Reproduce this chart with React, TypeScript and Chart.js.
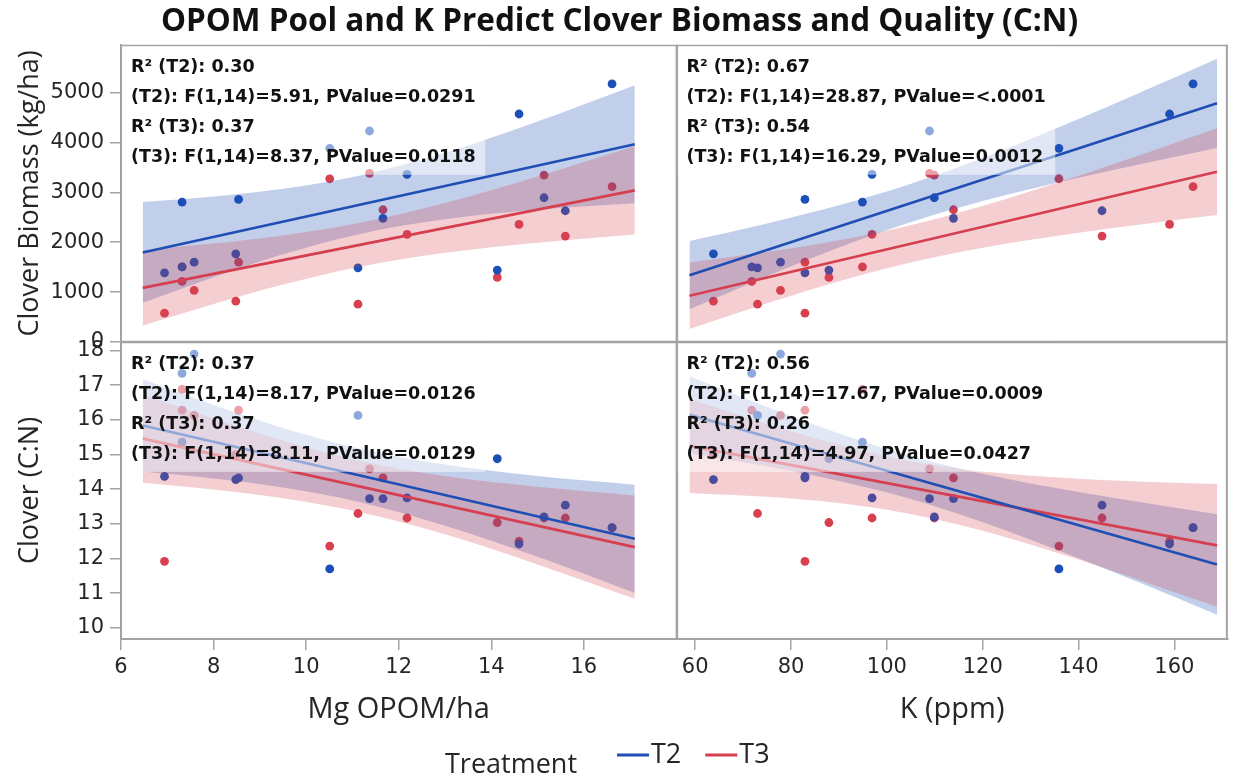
import React, { useEffect, useRef } from 'react';
import { Chart, registerables } from 'chart.js';

Chart.register(...registerables);

const FONT = "'Open Sans', 'Noto Sans', sans-serif";
const WIDE_FONT = "'DejaVu Sans', 'Open Sans', sans-serif";
const W = 1239;
const H = 780;

// ---- observations: 16 plots, two treatments ----
const opomMg = [6.94, 7.32, 7.32, 7.58, 8.48, 8.54, 10.51, 11.12, 11.37, 11.66, 12.18, 14.13, 14.6, 15.14, 15.6, 16.61];
const kPpm = [82.9, 71.8, 94.9, 77.8, 63.8, 82.9, 135.9, 73.0, 108.9, 113.9, 96.9, 87.9, 159.0, 109.9, 144.9, 163.9];
const biomassT2 = [1386, 1506, 2805, 1600, 1767, 2859, 3883, 1486, 4231, 2478, 3361, 1440, 4572, 2892, 2631, 5175];
const biomassT3 = [576, 1213, 1506, 1032, 817, 1600, 3273, 757, 3382, 2651, 2157, 1293, 2357, 3347, 2122, 3113];
const cnT2 = [14.37, 17.34, 15.36, 17.9, 14.28, 14.33, 11.7, 16.13, 13.73, 13.73, 13.75, 14.88, 12.42, 13.2, 13.54, 12.89];
const cnT3 = [11.92, 16.28, 16.88, 16.13, 15.0, 16.28, 12.36, 13.3, 14.59, 14.33, 13.17, 13.04, 12.5, 13.17, 13.17, 12.89];

// ---- fitted lines and 95% confidence bands ----
const lineOpomX = [6.47, 17.1];
const lineKX = [58.8, 168.9];
const bandOpomX = [6.47, 8, 9.5, 11.19, 13, 15, 17.1];
const bandKX = [58.8, 75, 90, 104.27, 120, 140, 155, 168.9];

const fitBioOpomT2 = [1795, 3964];
const fitBioOpomT3 = [1084, 3040];
const bandBioOpomT2Lo = [785, 1299, 1756, 2171, 2460, 2649, 2779];
const bandBioOpomT2Hi = [2805, 2915, 3070, 3345, 3794, 4421, 5149];
const bandBioOpomT3Lo = [327, 760, 1150, 1513, 1787, 1990, 2152];
const bandBioOpomT3Hi = [1841, 1972, 2134, 2393, 2785, 3318, 3928];

const fitBioKT2 = [1339, 4787];
const fitBioKT3 = [924, 3414];
const bandBioKT2Lo = [653, 1316, 1893, 2379, 2825, 3293, 3610, 3892];
const bandBioKT2Hi = [2025, 2376, 2739, 3147, 3687, 4471, 5094, 5682];
const bandBioKT3Lo = [257, 774, 1219, 1580, 1889, 2188, 2379, 2544];
const bandBioKT3Hi = [1591, 1806, 2041, 2326, 2727, 3334, 3821, 4284];

const fitCnOpomT2 = [15.84, 12.57];
const fitCnOpomT3 = [15.46, 12.33];
const bandCnOpomT2Lo = [14.51, 14.31, 14.05, 13.62, 12.95, 12.05, 11.01];
const bandCnOpomT2Hi = [17.17, 16.43, 15.77, 15.16, 14.71, 14.38, 14.13];
const bandCnOpomT3Lo = [14.19, 13.99, 13.74, 13.33, 12.7, 11.83, 10.84];
const bandCnOpomT3Hi = [16.73, 16.03, 15.4, 14.81, 14.38, 14.07, 13.82];

const fitCnKT2 = [16.15, 11.83];
const fitCnKT3 = [15.25, 12.38];
const bandCnKT2Lo = [15.04, 14.66, 14.24, 13.75, 13.05, 12.01, 11.18, 10.38];
const bandCnKT2Hi = [17.26, 16.37, 15.61, 14.99, 14.45, 13.92, 13.58, 13.28];
const bandCnKT3Lo = [13.89, 13.78, 13.6, 13.3, 12.8, 11.97, 11.27, 10.61];
const bandCnKT3Hi = [16.61, 15.88, 15.28, 14.82, 14.51, 14.3, 14.21, 14.15];

// ---- ticks ----
const xTicksOpom = [6, 8, 10, 12, 14, 16];
const xTicksK = [60, 80, 100, 120, 140, 160];
const yTicksBiomass = [0, 1000, 2000, 3000, 4000, 5000];
const yTicksCN = [10, 11, 12, 13, 14, 15, 16, 17, 18];

// ---- texts ----
const chartTitle = 'OPOM Pool and K Predict Clover Biomass and Quality (C:N)';
const statsTL = ['R² (T2): 0.30', '(T2): F(1,14)=5.91, PValue=0.0291', 'R² (T3): 0.37', '(T3): F(1,14)=8.37, PValue=0.0118'];
const statsTR = ['R² (T2): 0.67', '(T2): F(1,14)=28.87, PValue=<.0001', 'R² (T3): 0.54', '(T3): F(1,14)=16.29, PValue=0.0012'];
const statsBL = ['R² (T2): 0.37', '(T2): F(1,14)=8.17, PValue=0.0126', 'R² (T3): 0.37', '(T3): F(1,14)=8.11, PValue=0.0129'];
const statsBR = ['R² (T2): 0.56', '(T2): F(1,14)=17.67, PValue=0.0009', 'R² (T3): 0.26', '(T3): F(1,14)=4.97, PValue=0.0427'];
const legendTitle = 'Treatment';
const seriesNames = ['T2', 'T3'];

// ---- styles ----
const BLUE_PT = '#1b50b8';
const RED_PT = '#d8404f';
const BLUE_LINE = '#1f4fb4';
const RED_LINE = '#d63f4f';
const BLUE_BAND = 'rgba(31,78,180,0.27)';
const RED_BAND = 'rgba(214,64,79,0.26)';
const AXIS = '#a3a3a3';
const TEXT = '#262626';

type Pt = { x: number; y: number };
const zip = (xs: number[], ys: number[]): Pt[] => xs.map((x, i) => ({ x, y: ys[i] }));

function panelDatasets(
  xID: string, yID: string, ptsX: number[], t2: number[], t3: number[],
  bandX: number[], t2Lo: number[], t2Hi: number[], t3Lo: number[], t3Hi: number[],
  lineX: number[], t2Line: number[], t3Line: number[]
): any[] {
  const c = { xAxisID: xID, yAxisID: yID };
  const edge = { type: 'line', borderWidth: 0, borderColor: 'rgba(0,0,0,0)', pointRadius: 0, cubicInterpolationMode: 'monotone' };
  return [
    { ...c, type: 'scatter', label: 'T2', data: zip(ptsX, t2), backgroundColor: BLUE_PT, borderWidth: 0, pointRadius: 4.4, order: 10 },
    { ...c, type: 'scatter', label: 'T3', data: zip(ptsX, t3), backgroundColor: RED_PT, borderWidth: 0, pointRadius: 4.4, order: 10 },
    { ...c, ...edge, label: 'T2 lo', data: zip(bandX, t2Lo), fill: false, order: 6 },
    { ...c, ...edge, label: 'T2 hi', data: zip(bandX, t2Hi), fill: '-1', backgroundColor: BLUE_BAND, order: 6 },
    { ...c, ...edge, label: 'T3 lo', data: zip(bandX, t3Lo), fill: false, order: 5 },
    { ...c, ...edge, label: 'T3 hi', data: zip(bandX, t3Hi), fill: '-1', backgroundColor: RED_BAND, order: 5 },
    { ...c, type: 'line', label: 'T2 fit', data: zip(lineX, t2Line), borderColor: BLUE_LINE, borderWidth: 2.6, pointRadius: 0, fill: false, order: 1 },
    { ...c, type: 'line', label: 'T3 fit', data: zip(lineX, t3Line), borderColor: RED_LINE, borderWidth: 2.6, pointRadius: 0, fill: false, order: 1 },
  ];
}

const panels = [
  { x: 'xL', y: 'yB', lines: statsTL },
  { x: 'xR', y: 'yB', lines: statsTR },
  { x: 'xL', y: 'yC', lines: statsBL },
  { x: 'xR', y: 'yC', lines: statsBR },
];

const framePlugin = {
  id: 'frameAndStats',
  afterDatasetsDraw(chart: any) {
    const ctx = chart.ctx as CanvasRenderingContext2D;
    const a = chart.chartArea;
    const xL = chart.scales.xL, yB = chart.scales.yB;
    const line = (x1: number, y1: number, x2: number, y2: number, w: number) => {
      ctx.beginPath(); ctx.lineWidth = w; ctx.moveTo(x1, y1); ctx.lineTo(x2, y2); ctx.stroke();
    };
    ctx.save();
    ctx.strokeStyle = AXIS;
    line(a.left, a.top + 0.75, a.right, a.top + 0.75, 1.5);
    line(a.right - 1, a.top, a.right - 1, a.bottom, 2);
    line(a.left, yB.bottom, a.right, yB.bottom, 2.5);
    line(xL.right + 0.5, a.top, xL.right + 0.5, a.bottom, 2.5);
    ctx.restore();

    panels.forEach((p) => {
      const xs = chart.scales[p.x];
      const ys = chart.scales[p.y];
      ctx.save();
      ctx.font = `bold 17.5px ${WIDE_FONT}`;
      const w = Math.max(...p.lines.map((t) => ctx.measureText(t).width));
      const left = xs.left + 1.5;
      const top = ys.top + 2;
      ctx.fillStyle = 'rgba(255,255,255,0.5)';
      ctx.fillRect(left, top, w + 18, 128);
      ctx.fillStyle = '#111';
      ctx.textBaseline = 'middle';
      ctx.textAlign = 'left';
      p.lines.forEach((t, i) => ctx.fillText(t, left + 8.5, top + 21 + i * 30));
      ctx.restore();
    });
  },
  afterDraw(chart: any) {
    const ctx = chart.ctx as CanvasRenderingContext2D;
    ctx.save();
    ctx.font = `27px ${FONT}`;
    ctx.fillStyle = TEXT;
    ctx.textBaseline = 'middle';
    ctx.textAlign = 'left';
    ctx.fillText(legendTitle, 445, 765);
    let x = 617;
    const y = 755;
    [BLUE_LINE, RED_LINE].forEach((col, i) => {
      ctx.strokeStyle = col;
      ctx.lineWidth = 3;
      ctx.beginPath(); ctx.moveTo(x, y); ctx.lineTo(x + 32, y); ctx.stroke();
      x += 34;
      ctx.fillText(seriesNames[i], x, y);
      x += ctx.measureText(seriesNames[i]).width + 24;
    });
    ctx.restore();
  },
};

const tickFont = { family: WIDE_FONT, size: 21 };
const yTitleFont = { family: FONT, size: 27 };
const xTitleFont = { family: FONT, size: 29 };

function axis(extra: any, ticksArr: number[]) {
  return {
    type: 'linear',
    grid: { display: true, drawOnChartArea: false, drawTicks: true, tickLength: 11, color: AXIS, lineWidth: 1.5 },
    border: { display: true, color: AXIS, width: 2 },
    afterBuildTicks: (s: any) => { s.ticks = ticksArr.map((v) => ({ value: v })); },
    ...extra,
    ticks: { font: tickFont, color: TEXT, autoSkip: false, maxRotation: 0, callback: (v: any) => String(v), ...(extra.ticks || {}) },
  };
}

export default function App() {
  const ref = useRef<HTMLCanvasElement | null>(null);
  useEffect(() => {
    if (!ref.current) return;
    const datasets = [
      ...panelDatasets('xL', 'yB', opomMg, biomassT2, biomassT3, bandOpomX, bandBioOpomT2Lo, bandBioOpomT2Hi, bandBioOpomT3Lo, bandBioOpomT3Hi, lineOpomX, fitBioOpomT2, fitBioOpomT3),
      ...panelDatasets('xR', 'yB', kPpm, biomassT2, biomassT3, bandKX, bandBioKT2Lo, bandBioKT2Hi, bandBioKT3Lo, bandBioKT3Hi, lineKX, fitBioKT2, fitBioKT3),
      ...panelDatasets('xL', 'yC', opomMg, cnT2, cnT3, bandOpomX, bandCnOpomT2Lo, bandCnOpomT2Hi, bandCnOpomT3Lo, bandCnOpomT3Hi, lineOpomX, fitCnOpomT2, fitCnOpomT3),
      ...panelDatasets('xR', 'yC', kPpm, cnT2, cnT3, bandKX, bandCnKT2Lo, bandCnKT2Hi, bandCnKT3Lo, bandCnKT3Hi, lineKX, fitCnKT2, fitCnKT3),
    ];
    const chart = new Chart(ref.current, {
      type: 'scatter',
      data: { datasets } as any,
      options: {
        responsive: false,
        maintainAspectRatio: false,
        animation: false,
        devicePixelRatio: 1,
        layout: { padding: 0 },
        plugins: {
          legend: { display: false },
          tooltip: { enabled: false },
          title: {
            display: true,
            text: chartTitle,
            font: { family: FONT, size: 31.5, weight: 'bold' },
            color: '#111',
            padding: { top: 3, bottom: 4 },
          },
        },
        scales: {
          xL: axis({
            axis: 'x', position: 'bottom', stack: 'xs', stackWeight: 561, min: 6, max: 18,
            afterFit: (s: any) => { s.height = 141; },
            ticks: { padding: 5 },
            title: { display: true, text: 'Mg OPOM/ha', font: xTitleFont, color: TEXT, padding: { top: 0, bottom: 53 } },
          }, xTicksOpom),
          xR: axis({
            axis: 'x', position: 'bottom', stack: 'xs', stackWeight: 557, min: 56.07, max: 171.16,
            afterFit: (s: any) => { s.height = 141; },
            ticks: { padding: 5 },
            title: { display: true, text: 'K (ppm)', font: xTitleFont, color: TEXT, padding: { top: 0, bottom: 53 } },
          }, xTicksK),
          yC: axis({
            axis: 'y', position: 'left', stack: 'ys', stackWeight: 1, min: 9.68, max: 18.25,
            afterFit: (s: any) => { s.width = 121; },
            ticks: { padding: 6 },
            title: { display: true, text: 'Clover (C:N)', font: yTitleFont, color: TEXT, padding: { top: 14, bottom: 0 } },
          }, yTicksCN),
          yB: axis({
            axis: 'y', position: 'left', stack: 'ys', stackWeight: 1, min: 0, max: 5960,
            afterFit: (s: any) => { s.width = 121; },
            ticks: { padding: 6 },
            title: { display: true, text: 'Clover Biomass (kg/ha)', font: yTitleFont, color: TEXT, padding: { top: 14, bottom: 0 } },
          }, yTicksBiomass),
        } as any,
      },
      plugins: [framePlugin as any],
    });
    return () => chart.destroy();
  }, []);

  return (
    <div style={{ position: 'absolute', left: 0, top: 0, width: W, height: H, background: '#fff' }}>
      <canvas ref={ref} width={W} height={H} style={{ width: W, height: H, display: 'block' }} />
    </div>
  );
}
